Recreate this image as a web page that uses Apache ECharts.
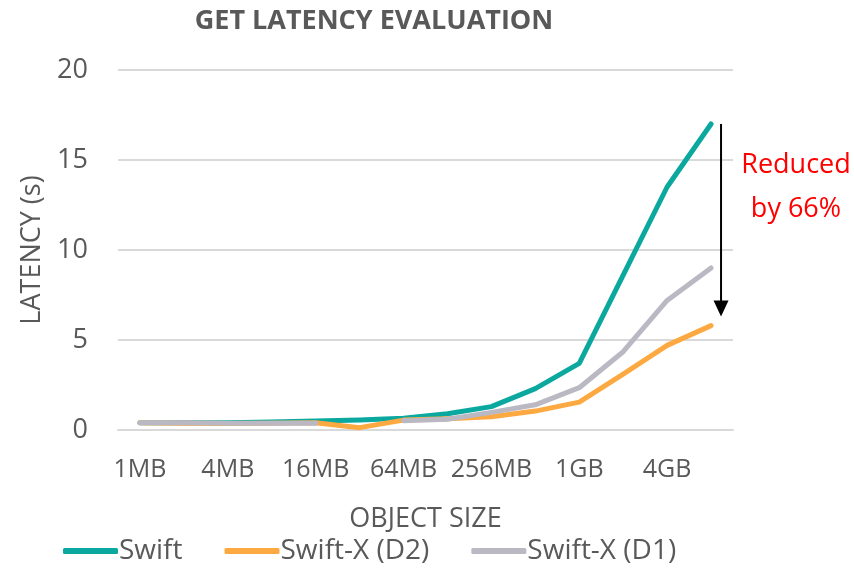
<!DOCTYPE html>
<html><head><meta charset="utf-8">
<script src="https://cdn.jsdelivr.net/npm/echarts@6/dist/echarts.min.js"></script>
<style>html,body{margin:0;padding:0;background:#fff}#c{width:854px;height:569px}</style>
</head><body><div id="c"></div>
<script>
const categories = ['1MB','2MB','4MB','8MB','16MB','32MB','64MB','128MB','256MB','512MB','1GB','2GB','4GB','8GB'];
const swift = [0.4,0.4,0.4,0.45,0.5,0.55,0.65,0.9,1.3,2.3,3.7,8.6,13.5,17.0];
const swiftXD2 = [0.4,0.38,0.36,0.38,0.4,0.13,0.55,0.62,0.74,1.05,1.55,3.1,4.7,5.8];
const swiftXD1 = [0.4,0.4,0.38,0.38,0.38,null,0.52,0.6,0.98,1.4,2.35,4.35,7.2,9.0];
const yTicks = [0,5,10,15,20];
const seriesNames = ['Swift','Swift-X (D2)','Swift-X (D1)'];
const annotation = ['Reduced','by 66%'];

const FONT = 'Open Sans';
const GRAY = '#595959';
const colors = ['#0AA89E','#FDA942','#BAB9C3'];

const chart = echarts.init(document.getElementById('c'));
const mk = (name, data, i) => ({
  name, type:'line', data, showSymbol:false, symbol:'none', connectNulls:false,
  lineStyle:{width:5, color:colors[i], cap:'round', join:'round'},
  itemStyle:{color:colors[i]}
});
chart.setOption({
  animation:false,
  title:{text:'GET LATENCY EVALUATION', left:369, top:3, textAlign:'center',
    textStyle:{fontFamily:FONT, fontWeight:'bold', fontSize:27, color:GRAY}},
  grid:{left:118, right:121, top:70, bottom:139, containLabel:false},
  legend:{left:58, top:532, icon:'roundRect', itemWidth:55, itemHeight:6, itemGap:42,
    textStyle:{fontFamily:FONT, fontSize:28, color:GRAY, padding:[0,0,0,-4]},
    data:seriesNames},
  xAxis:{type:'category', data:categories, boundaryGap:true,
    name:'OBJECT SIZE', nameLocation:'middle', nameGap:76,
    nameTextStyle:{fontFamily:FONT, fontSize:27, color:GRAY},
    axisLine:{lineStyle:{color:'#D9D9D9', width:2}}, axisTick:{show:false},
    axisLabel:{interval:1, margin:27, fontFamily:FONT, fontSize:25, color:GRAY}},
  yAxis:{type:'value', min:yTicks[0], max:yTicks[yTicks.length-1], interval:5,
    name:'LATENCY (s)', nameLocation:'middle', nameGap:72,
    nameTextStyle:{fontFamily:FONT, fontSize:27, color:GRAY},
    axisLine:{show:false}, axisTick:{show:false},
    splitLine:{lineStyle:{color:'#D9D9D9', width:2}},
    axisLabel:{margin:30, fontFamily:FONT, fontSize:27, color:GRAY}},
  series:[mk(seriesNames[0],swift,0), mk(seriesNames[1],swiftXD2,1), mk(seriesNames[2],swiftXD1,2)]
});

const last = categories.length - 1;
const pTop = chart.convertToPixel({gridIndex:0}, [last, swift[last]]);
const pBot = chart.convertToPixel({gridIndex:0}, [last, swiftXD2[last] + 0.5]);
const ax = pTop[0] + 10;
chart.setOption({
  graphic:[
    {type:'line', shape:{x1:ax, y1:pTop[1], x2:ax, y2:pBot[1]-14}, style:{stroke:'#000', lineWidth:2}},
    {type:'polygon', shape:{points:[[ax-7.5,pBot[1]-16],[ax+7.5,pBot[1]-16],[ax,pBot[1]]]}, style:{fill:'#000'}},
    {type:'text', x:796, y:pTop[1]+19, style:{text:annotation.join('\n'), fill:'#FF0000',
      font:'27px "Open Sans"', align:'center', lineHeight:44}}
  ]
});
</script></body></html>
